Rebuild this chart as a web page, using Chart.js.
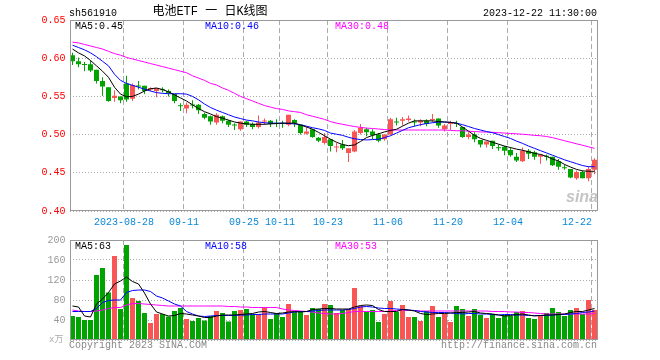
<!DOCTYPE html>
<html>
<head>
<meta charset="utf-8">
<title>电池ETF 日K线图</title>
<script src="https://cdn.jsdelivr.net/npm/chart.js@4.4.1/dist/chart.umd.min.js"></script>
<style>
body { margin: 0; background: #fff; }
#wrap { position: relative; width: 660px; height: 360px; font-family: "Liberation Mono", "Noto Sans CJK SC", monospace; font-size: 10px; }
canvas { position: absolute; left: 0; }
.t { position: absolute; white-space: pre; line-height: 12px; }
</style>
</head>
<body>
<div id="wrap">
  <canvas id="k" width="660" height="232" style="top:0"></canvas>
  <canvas id="v" width="660" height="130" style="top:230px"></canvas>
  <div class="t" style="left:69px;top:8px">sh561910</div>
  <div class="t" style="left:140px;width:140px;top:5px;font-size:12px;line-height:14px;text-align:center">电池ETF 一 日K线图</div>
  <div class="t" style="right:63px;top:8px">2023-12-22 11:30:00</div>
  <div class="t" style="left:75px;top:21px;color:#000">MA5:0.45</div>
  <div class="t" style="left:205px;top:21px;color:#0000ff">MA10:0.46</div>
  <div class="t" style="left:335px;top:21px;color:#ff00ff">MA30:0.48</div>
  <div class="t" style="left:75px;top:241px;color:#000">MA5:63</div>
  <div class="t" style="left:205px;top:241px;color:#0000ff">MA10:58</div>
  <div class="t" style="left:335px;top:241px;color:#ff00ff">MA30:53</div>
  <div class="t" style="left:49px;top:334px;font-size:9px;color:#aaa">x万</div>
  <div class="t" style="left:69px;top:340px;color:#888">Copyright 2023 SINA.COM</div>
  <div class="t" style="right:63px;top:340px;color:#888">http://finance.sina.com.cn</div>
  <div class="t" style="left:566px;top:188px;font:italic bold 16px 'Liberation Sans',sans-serif;color:#c4c4c4">sina</div>
</div>
<script>
const dates = ['08-15','08-16','08-17','08-18','08-21','08-22','08-23','08-24','08-25','08-28','08-29','08-30','08-31',
  '09-01','09-04','09-05','09-06','09-07','09-08','09-11','09-12','09-13','09-14','09-15','09-18','09-19','09-20','09-21','09-22','09-25','09-26','09-27','09-28',
  '10-09','10-10','10-11','10-12','10-13','10-16','10-17','10-18','10-19','10-20','10-23','10-24','10-25','10-26','10-27','10-30','10-31',
  '11-01','11-02','11-03','11-06','11-07','11-08','11-09','11-10','11-13','11-14','11-15','11-16','11-17','11-20','11-21','11-22','11-23','11-24','11-27','11-28','11-29','11-30',
  '12-01','12-04','12-05','12-06','12-07','12-08','12-11','12-12','12-13','12-14','12-15','12-18','12-19','12-20','12-21','12-22'];
const tickDates = ['08-28','09-11','09-25','10-11','10-23','11-06','11-20','12-04','12-22'];
const tickText  = ['2023-08-28','09-11','09-25','10-11','10-23','11-06','11-20','12-04','12-22'];

const open = [0.604,0.596,0.592,0.592,0.585,0.570,0.562,0.548,0.550,0.567,
  0.547,0.564,0.564,0.559,0.557,0.559,0.557,0.553,0.538,0.534,
  0.539,0.539,0.527,0.524,0.516,0.524,0.518,0.513,0.507,0.517,
  0.514,0.510,0.517,0.518,0.515,0.515,0.513,0.519,0.513,0.501,
  0.507,0.496,0.489,0.494,0.483,0.487,0.476,0.478,0.502,0.507,
  0.504,0.500,0.494,0.500,0.517,0.518,0.519,0.517,0.516,0.518,
  0.519,0.521,0.507,0.514,0.515,0.510,0.497,0.500,0.493,0.487,
  0.492,0.483,0.484,0.480,0.471,0.465,0.479,0.477,0.471,0.472,
  0.471,0.465,0.457,0.455,0.443,0.451,0.443,0.454];
const high = [0.607,0.601,0.595,0.597,0.585,0.575,0.562,0.558,0.550,0.577,
  0.567,0.570,0.564,0.562,0.561,0.562,0.559,0.553,0.541,0.542,
  0.545,0.540,0.529,0.525,0.528,0.525,0.519,0.515,0.517,0.518,
  0.516,0.525,0.521,0.519,0.520,0.518,0.526,0.520,0.513,0.510,
  0.507,0.497,0.502,0.494,0.489,0.493,0.482,0.506,0.514,0.509,
  0.507,0.502,0.500,0.522,0.522,0.523,0.525,0.520,0.520,0.520,
  0.527,0.521,0.514,0.518,0.518,0.510,0.503,0.503,0.493,0.491,
  0.492,0.487,0.485,0.483,0.476,0.483,0.481,0.479,0.474,0.474,
  0.471,0.468,0.461,0.455,0.453,0.453,0.459,0.469];
const low = [0.591,0.588,0.583,0.582,0.567,0.551,0.543,0.543,0.541,0.543,
  0.544,0.559,0.553,0.557,0.549,0.555,0.550,0.541,0.531,0.528,
  0.534,0.527,0.520,0.513,0.513,0.515,0.510,0.506,0.505,0.510,
  0.507,0.508,0.513,0.510,0.510,0.509,0.511,0.510,0.500,0.500,
  0.496,0.490,0.487,0.478,0.477,0.480,0.464,0.477,0.500,0.498,
  0.494,0.490,0.492,0.499,0.512,0.512,0.517,0.511,0.511,0.511,
  0.516,0.509,0.504,0.506,0.510,0.496,0.494,0.490,0.483,0.483,
  0.481,0.479,0.473,0.471,0.464,0.464,0.468,0.467,0.462,0.466,
  0.459,0.454,0.454,0.443,0.441,0.443,0.439,0.448];
const close = [0.596,0.592,0.591,0.584,0.570,0.563,0.544,0.551,0.545,0.546,
  0.565,0.563,0.557,0.561,0.561,0.558,0.554,0.544,0.537,0.539,
  0.538,0.532,0.522,0.517,0.526,0.518,0.513,0.512,0.517,0.513,
  0.510,0.516,0.518,0.514,0.514,0.514,0.526,0.515,0.502,0.504,
  0.497,0.492,0.497,0.485,0.484,0.482,0.482,0.504,0.509,0.503,
  0.499,0.492,0.500,0.520,0.516,0.520,0.521,0.516,0.518,0.514,
  0.520,0.512,0.512,0.516,0.514,0.497,0.500,0.494,0.487,0.491,
  0.485,0.482,0.479,0.473,0.466,0.479,0.475,0.471,0.474,0.471,
  0.460,0.458,0.456,0.444,0.451,0.443,0.455,0.467];

// moving averages
const ma5 = [0.612,0.607,0.603,0.597,0.590,0.583,0.575,0.562,0.553,0.5495,
  0.550,0.553,0.557,0.560,0.561,0.559,0.556,0.552,0.548,0.544,
  0.539,0.534,0.530,0.527,0.5235,0.5215,0.519,0.5165,0.515,0.514,
  0.5135,0.5135,0.5135,0.514,0.5145,0.515,0.515,0.515,0.5125,0.510,
  0.507,0.503,0.4985,0.494,0.490,0.487,0.4855,0.4865,0.491,0.496,
  0.499,0.501,0.5035,0.5055,0.507,0.511,0.515,0.518,0.518,0.518,
  0.518,0.517,0.5165,0.516,0.515,0.510,0.5045,0.499,0.495,0.4925,
  0.490,0.4875,0.485,0.483,0.481,0.4795,0.4775,0.4755,0.474,0.4715,
  0.468,0.4655,0.461,0.4575,0.4545,0.4525,0.452,0.452];
const ma10 = [0.617,0.614,0.611,0.607,0.602,0.596,0.590,0.579,0.571,0.567,
  0.5645,0.562,0.5595,0.557,0.555,0.554,0.5535,0.5535,0.5535,0.553,
  0.550,0.5455,0.540,0.5355,0.532,0.529,0.526,0.523,0.521,0.519,
  0.518,0.5165,0.5155,0.515,0.515,0.515,0.5145,0.514,0.513,0.511,
  0.509,0.5075,0.5055,0.502,0.5005,0.499,0.4965,0.4945,0.4935,0.493,
  0.4935,0.494,0.496,0.4985,0.502,0.5055,0.509,0.511,0.513,0.5145,
  0.5155,0.5165,0.5165,0.516,0.515,0.513,0.5105,0.508,0.506,0.504,
  0.5025,0.500,0.4975,0.495,0.4915,0.4885,0.485,0.482,0.479,0.476,
  0.473,0.470,0.467,0.4645,0.462,0.4595,0.458,0.458];
const ma30 = [0.621,0.620,0.618,0.616,0.614,0.612,0.609,0.606,0.604,0.601,
  0.599,0.597,0.595,0.593,0.591,0.589,0.587,0.585,0.583,0.581,
  0.577,0.574,0.571,0.567,0.565,0.561,0.558,0.554,0.550,0.547,
  0.544,0.541,0.538,0.536,0.534,0.533,0.531,0.530,0.529,0.526,
  0.524,0.522,0.520,0.517,0.515,0.5135,0.512,0.5105,0.5095,0.5085,
  0.508,0.5073,0.5066,0.506,0.506,0.506,0.506,0.506,0.506,0.506,
  0.506,0.506,0.506,0.5055,0.505,0.505,0.5045,0.504,0.5035,0.5033,
  0.503,0.5025,0.502,0.5015,0.501,0.5005,0.4998,0.499,0.4985,0.4975,
  0.496,0.494,0.492,0.490,0.488,0.486,0.484,0.482];

// volume (万手) and its moving averages
const vol = [48,46,40,40,130,144,95,168,62,190,
  84,78,54,34,52,52,47,58,64,42,
  38,44,39,48,58,54,37,58,60,62,
  52,52,66,42,54,46,72,56,58,50,
  64,62,72,70,54,60,62,104,68,56,
  60,36,52,78,56,70,46,46,38,58,
  68,46,52,36,68,62,48,62,50,44,
  52,44,50,48,56,58,44,42,48,54,
  64,56,48,60,64,52,80,60];
const volMa5 = [68,66,48,46,72,82,95,112,118,126,
  117,112,94,72,56,52,48,49,53,52,
  50,48,45,45,48,50,50,50,51,52,
  53,56,57,55,53,54,56,57,56,57,
  61,62,63,63,62,62,62,66,69,70,
  69,61,57,57,57,61,60,58,53,51,
  52,53,53,54,55,55,56,57,54,53,
  52,50,48,49,51,52,50,48,49,50,
  50,51,52,55,57,57,60,63];
const volMa10 = [57,57,57,57,63,75,79,80,80,95,
  99,100,100,97,88,84,78,72,68,57,
  52,48,47,48,49,49,49,49,50,50,
  51,51,52,52,52,52,54,56,57,57,
  58,59,60,60,60,60,61,63,66,67,
  66,64,63,63,62,61,60,59,57,56,
  55,55,55,54,53,52,53,53,52,52,
  51,50,51,51,50,50,49,49,49,49,
  50,51,51,52,53,55,56,58];
const volMa30 = [60,58,57,57,58,60,63,65,65,70,
  73,73,72,71,70,69,68,68,68,68,
  68,68,68,68,68,68,67,67,66,66,
  65,65,65,65,65,62,60,59,58,57,
  56,54,53,52,52,53,55,57,57,57,
  57,57,57,58,59,60,59,59,58,58,
  58,58,58,58,58,58,58,58,58,58,
  57,57,57,56,56,55,55,54,53,52,
  52,52,52,52,52,52,52,53];

const RED = '#fa5555';
const GREEN = '#00a300';
const MONO = 'Liberation Mono';
const colors = close.map((c, i) => c >= open[i] ? RED : GREEN);
const wicks = low.map((l, i) => [l, high[i]]);
const bodies = open.map((o, i) => [o, close[i]]);

function isTick(i) { return tickDates.indexOf(dates[i]) >= 0; }

const frame = {
  id: 'frame',
  afterDatasetsDraw(chart) {
    const a = chart.chartArea, ctx = chart.ctx;
    ctx.save();
    ctx.strokeStyle = '#999';
    ctx.lineWidth = 1;
    const l = Math.round(a.left) + 0.5, t = Math.round(a.top) + 0.5;
    const r = Math.round(a.right) - 0.5, b = Math.round(a.bottom) - 0.5;
    ctx.strokeRect(l, t, r - l, b - t);
    ctx.restore();
  }
};

function maLine(data, color) {
  return { type: 'line', data: data, borderColor: color, borderWidth: 1, pointRadius: 0, tension: 0, order: 0 };
}

function xScale(showLabels, h) {
  return {
    offset: true,
    grid: { offset: true, drawTicks: false, lineWidth: 1,
      color: ctx => (ctx.index !== undefined && isTick(ctx.index)) ? '#aaa' : 'rgba(0,0,0,0)' },
    border: { display: false, dash: [5, 3] },
    ticks: {
      display: showLabels, autoSkip: false, maxRotation: 0, minRotation: 0, padding: 5,
      labelOffset: -2.5, color: '#0a88d8', font: { family: MONO, size: 10 },
      callback: (v, i) => {
        const k = tickDates.indexOf(dates[i]);
        if (k < 0) return '';
        return i === dates.length - 1 ? tickText[k] + '     ' : tickText[k];
      }
    },
    afterFit: s => { s.height = h; }
  };
}

new Chart(document.getElementById('k'), {
  type: 'bar',
  data: {
    labels: dates,
    datasets: [
      maLine(ma5, '#000'),
      maLine(ma10, '#0000ff'),
      maLine(ma30, '#ff00ff'),
      { data: bodies, backgroundColor: colors, barThickness: 5, grouped: false, minBarLength: 1, inflateAmount: 0, order: 1 },
      { data: wicks, backgroundColor: colors, barThickness: 1, grouped: false, inflateAmount: 0, order: 2 }
    ]
  },
  options: {
    responsive: false, animation: false,
    layout: { padding: { top: 20, right: 62.5, left: 0, bottom: 0 } },
    plugins: { legend: { display: false }, tooltip: { enabled: false } },
    scales: {
      x: xScale(true, 21),
      y: {
        min: 0.40, max: 0.65,
        ticks: { stepSize: 0.05, color: '#ff0000', padding: 4, font: { family: MONO, size: 10 }, callback: v => v.toFixed(2) },
        grid: { drawTicks: false, color: '#aaa' },
        border: { display: false, dash: [1, 2] },
        afterFit: s => { s.width = 69.5; }
      }
    }
  },
  plugins: [frame]
});

new Chart(document.getElementById('v'), {
  type: 'bar',
  data: {
    labels: dates,
    datasets: [
      maLine(volMa5, '#000'),
      maLine(volMa10, '#0000ff'),
      maLine(volMa30, '#ff00ff'),
      { data: vol, backgroundColor: colors, barThickness: 5, grouped: false, inflateAmount: 0, order: 1 }
    ]
  },
  options: {
    responsive: false, animation: false,
    layout: { padding: { top: 10, right: 62.5, left: 0, bottom: 0 } },
    plugins: { legend: { display: false }, tooltip: { enabled: false } },
    scales: {
      x: xScale(false, 20),
      y: {
        min: 0, max: 200,
        ticks: { stepSize: 40, color: '#999', padding: 4, font: { family: MONO, size: 10 }, callback: v => v === 0 ? '' : v },
        grid: { drawTicks: false, color: '#aaa' },
        border: { display: false, dash: [1, 2] },
        afterFit: s => { s.width = 69.5; }
      }
    }
  },
  plugins: [frame]
});
</script>
</body>
</html>
